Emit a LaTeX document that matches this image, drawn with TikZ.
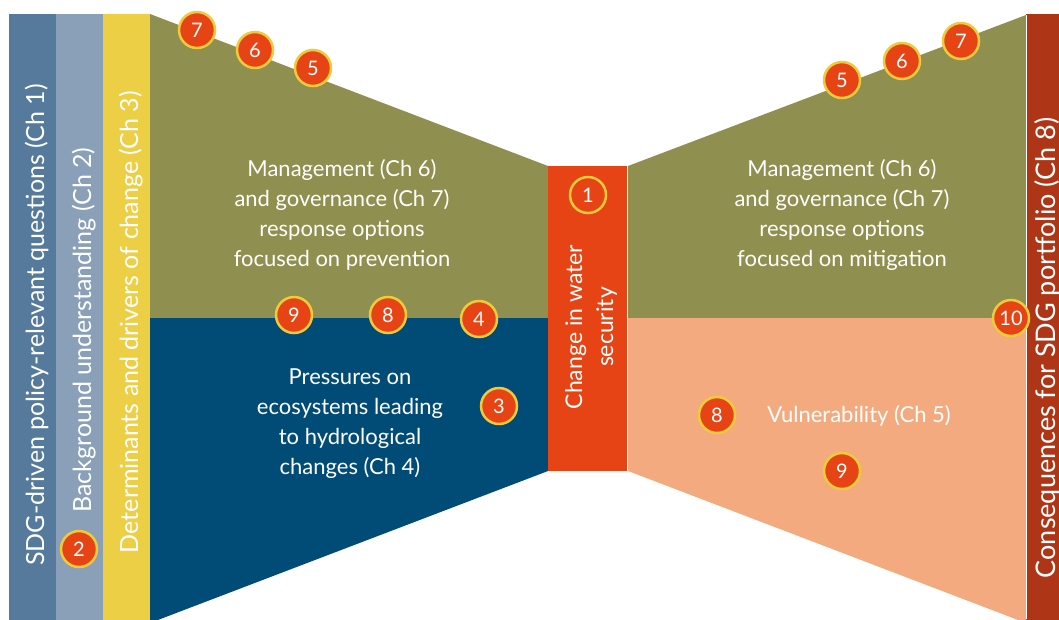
\documentclass[tikz,border=0pt]{standalone}
\usepackage{fontspec}
\setmainfont{Lato}
\definecolor{barA}{HTML}{557A9C}
\definecolor{barB}{HTML}{8AA0B8}
\definecolor{barC}{HTML}{ECCF44}
\definecolor{olive}{HTML}{8F8F4F}
\definecolor{deepblue}{HTML}{004C77}
\definecolor{hotred}{HTML}{E64415}
\definecolor{peach}{HTML}{F3AA7F}
\definecolor{darkred}{HTML}{AE3515}
\definecolor{ringyel}{HTML}{EDCB3A}
\begin{document}
\begin{tikzpicture}[x=1pt,y=-1pt,
  num/.style={circle, fill=hotred, draw=ringyel, line width=2.5pt, text=white,
    font=\fontsize{20}{20}\selectfont, minimum size=36pt, inner sep=0pt},
  ring/.style={num, fill=none},
  lbl/.style={text=white, align=center, font=\fontsize{22}{30}\selectfont, inner sep=0pt},
  vlbl/.style={lbl, rotate=90, anchor=base, font=\fontsize{25}{30}\selectfont}]
\clip (0,0) rectangle (1059,619);
\fill[white] (0,0) rectangle (1059,619);
% side bars
\fill[barA] (9,14) rectangle (56,620);
\fill[barB] (56,14) rectangle (103,620);
\fill[barC] (103,14) rectangle (150,620);
\fill[darkred] (1026,14) rectangle (1060,620);
% funnel regions
\fill[olive] (150,14) -- (548,166) -- (548,318) -- (150,318) -- cycle;
\fill[deepblue] (150,318) -- (548,318) -- (548,471) -- (150,623) -- cycle;
\fill[olive] (628,166) -- (1026,15) -- (1026,318) -- (628,318) -- cycle;
\fill[peach] (628,318) -- (1026,318) -- (1026,623) -- (628,471) -- cycle;
\draw[white, line width=0.8pt] (627.5,166) -- (627.5,471);
\draw[white, line width=0.8pt] (1026,15) -- (1026,619);
\fill[hotred] (548,166) rectangle (627,471);
% texts
\node[vlbl] (t1) at (44,325) {SDG-driven policy-relevant questions (Ch 1)};
\node[vlbl] (t2) at (91,330) {Background understanding (Ch 2)};
\node[vlbl] (t3) at (138,322) {Determinants and drivers of change (Ch 3)};
\node[vlbl, font=\fontsize{27}{30}\selectfont] (t8) at (1055,348) {Consequences for SDG portfolio (Ch 8)};
\node[lbl, rotate=90, font=\fontsize{23}{31}\selectfont] (tw) at (591,327) {Change in water\\security};
\node[lbl] (tml) at (342,215) {Management (Ch 6)\\and governance (Ch 7)\\response options\\focused on prevention};
\node[lbl] (tmr) at (842,215) {Management (Ch 6)\\and governance (Ch 7)\\response options\\focused on mitigation};
\node[lbl] (tp) at (350,424) {Pressures on\\ecosystems leading\\to hydrological\\changes (Ch 4)};
\node[lbl, anchor=base] (tv) at (859,422) {Vulnerability (Ch 5)};
% numbered circles
\node[num] (c7L) at (197,30) {7};
\node[num] (c6L) at (255,50) {6};
\node[num] (c5L) at (313,68) {5};
\node[num] (c9L) at (294,315) {9};
\node[num] (c8L) at (388,315) {8};
\node[num] (c4L) at (479,319) {4};
\node[num] (c3) at (499,406) {3};
\node[num] (c2) at (79,549) {2};
\node[ring] (c1) at (588,195) {1};
\node[num] (c5R) at (842,80) {5};
\node[num] (c6R) at (902,61) {6};
\node[num] (c7R) at (961,41) {7};
\node[num] (c10) at (1011,318) {10};
\node[num] (c8R) at (717,415) {8};
\node[num] (c9R) at (842,471) {9};
\end{tikzpicture}
\end{document}
